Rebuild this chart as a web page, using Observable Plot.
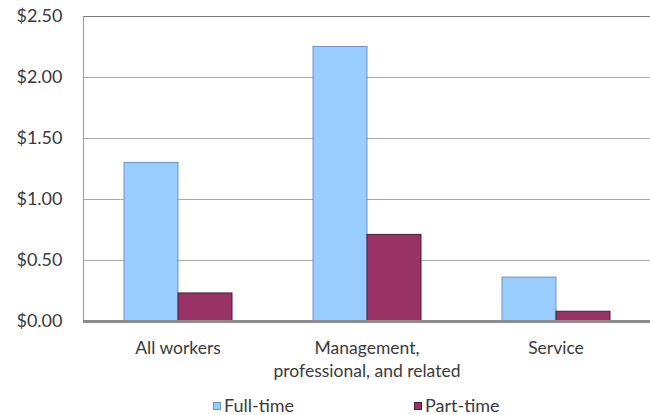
<!DOCTYPE html>
<html>
<head>
<meta charset="utf-8">
<script src="https://cdn.jsdelivr.net/npm/d3@7"></script>
<script src="https://cdn.jsdelivr.net/npm/@observablehq/plot@0.6"></script>
<style>
  body { margin: 0; background: #fff; }
  #wrap { position: relative; width: 650px; height: 415px; font-family: Lato, "Open Sans", sans-serif; color: #3a3a3a; }
  .leg { position: absolute; top: 397px; height: 17px; font-size: 18px; line-height: 17px; display: flex; align-items: center; white-space: nowrap; }
  .sw { display: inline-block; width: 8px; height: 8px; margin-right: 3px; box-sizing: border-box; }
</style>
</head>
<body>
<div id="wrap"></div>
<script>
const categories = ["All workers", "Management,\nprofessional, and related", "Service"];
const series = ["Full-time", "Part-time"];
const fullTime = [1.30, 2.25, 0.36];
const partTime = [0.23, 0.71, 0.08];
const yTicks = [0, 0.5, 1.0, 1.5, 2.0, 2.5];
const colors = ["#99ccff", "#993366"];
const strokes = ["#6f92c8", "#4f1d38"];

const rows = [];
categories.forEach((c, i) => {
  rows.push({category: c, series: series[0], value: fullTime[i]});
  rows.push({category: c, series: series[1], value: partTime[i]});
});

const chart = Plot.plot({
  width: 650,
  height: 395,
  marginLeft: 82,
  marginRight: 0,
  marginTop: 16,
  marginBottom: 74,
  style: {fontFamily: "Lato, 'Open Sans', sans-serif", fontSize: "17px", color: "#3a3a3a", background: "#fff"},
  fx: {domain: categories, padding: 0, label: null},
  x: {domain: series, paddingInner: 0, paddingOuter: 0.75, axis: null},
  y: {domain: [0, 2.5], label: null},
  color: {domain: series, range: colors},
  marks: [
    Plot.gridY(yTicks, {stroke: "#a9a9a9", strokeOpacity: 1, strokeWidth: 1}),
    Plot.frame({anchor: "top", stroke: "#7a7a7a", strokeWidth: 1.2}),
    Plot.frame({anchor: "left", stroke: "#9a9a9a", fx: ["All workers"]}),
    Plot.barY(rows.filter(d => d.series === series[0]), {fx: "category", x: "series", y: "value", fill: "series", stroke: strokes[0], strokeWidth: 1, inset: 0}),
    Plot.barY(rows.filter(d => d.series === series[1]), {fx: "category", x: "series", y: "value", fill: "series", stroke: strokes[1], strokeWidth: 1, inset: 0}),
    Plot.ruleY([0], {stroke: "#8c8c8c", strokeWidth: 3}),
    Plot.axisY(yTicks, {tickFormat: d => "$" + d.toFixed(2), tickSize: 0, tickPadding: 21, fontSize: 18, fill: "#3a3a3a", label: null}),
    Plot.axisFx({anchor: "bottom", tickSize: 0, tickPadding: 16, fontSize: 17.5, lineHeight: 1.31, fill: "#3a3a3a", label: null})
  ]
});

const wrap = document.getElementById("wrap");
wrap.appendChild(chart);

const legX = [213, 414];
series.forEach((s, i) => {
  const item = document.createElement("div");
  item.className = "leg";
  item.style.left = legX[i] + "px";
  const sw = document.createElement("span");
  sw.className = "sw";
  sw.style.background = colors[i];
  sw.style.border = "1px solid " + strokes[i];
  item.appendChild(sw);
  item.appendChild(document.createTextNode(s));
  wrap.appendChild(item);
});
</script>
</body>
</html>
